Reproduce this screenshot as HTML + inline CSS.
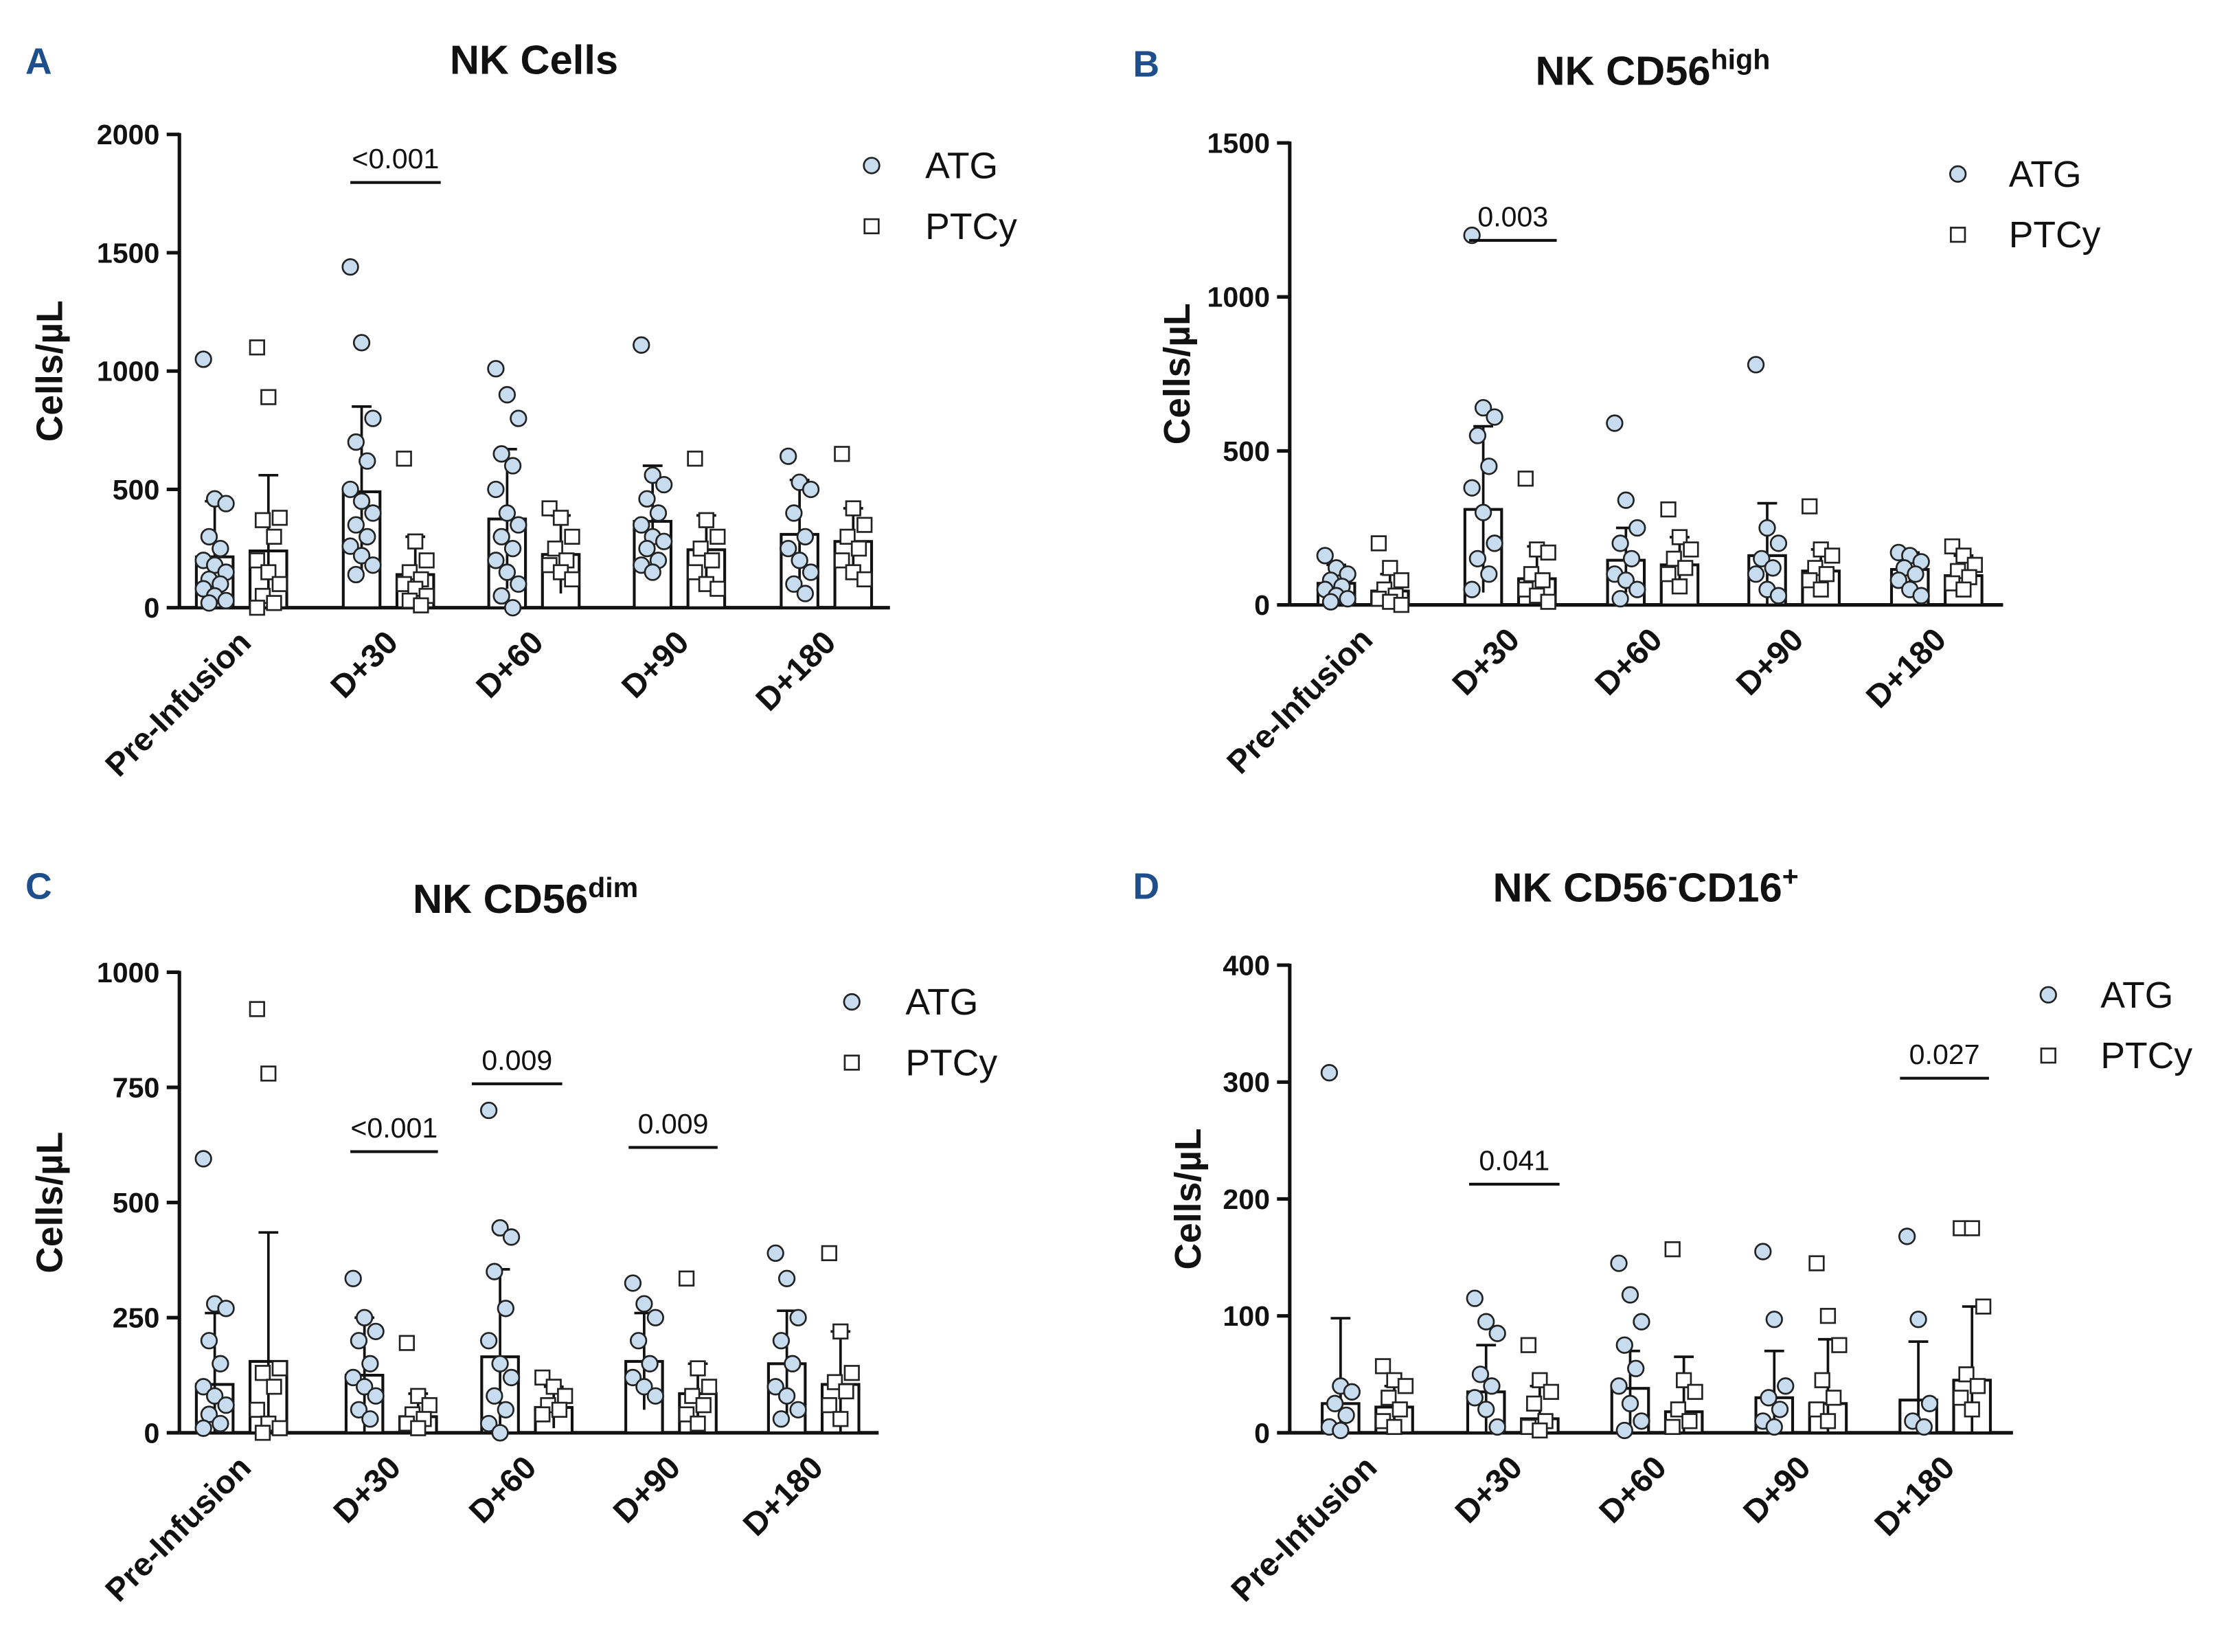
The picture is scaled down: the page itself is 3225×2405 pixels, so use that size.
<!DOCTYPE html>
<html><head><meta charset="utf-8"><style>
html,body{margin:0;padding:0;background:#fff}
svg{display:block}
text{font-family:"Liberation Sans",Arial,sans-serif}
</style></head><body>
<svg id="fig" xmlns="http://www.w3.org/2000/svg" width="3225" height="2405" viewBox="0 0 1568 1169"></svg>
<script>
const groups = ["Pre-Infusion","D+30","D+60","D+90","D+180"];
// Panel A
const aTicks=[0,500,1000,1500,2000];
const aAtgMean=[215,490,375,365,310], aAtgUp=[450,850,670,600,540];
const aPtcMean=[240,140,225,245,280], aPtcUp=[560,300,390,390,420];
const aAtgPts=[[1050,460,440,300,250,200,180,150,120,100,80,50,30,20],[1440,1120,800,700,620,500,450,400,350,300,260,220,180,140],[1010,900,800,650,600,500,400,350,300,250,200,150,100,50,0],[1110,560,520,460,400,350,300,280,250,200,180,150],[640,530,500,400,300,250,200,150,100,60]];
const aPtcPts=[[1100,890,380,370,300,200,150,100,50,20,0],[630,280,200,150,120,100,80,50,30,10],[420,380,300,250,200,180,150,120],[630,370,300,250,200,150,100,80],[650,420,350,300,250,200,150,120]];
// Panel B
const bTicks=[0,500,1000,1500];
const bAtgMean=[70,310,145,160,115], bAtgUp=[130,580,250,330,170];
const bPtcMean=[45,85,130,110,95], bPtcUp=[100,190,220,180,160];
const bAtgPts=[[160,120,100,80,60,50,30,20,10],[1200,640,610,550,450,380,300,200,150,100,50],[590,340,250,200,150,100,80,50,20],[780,250,200,150,120,100,50,30],[170,160,140,120,100,80,50,30]];
const bPtcPts=[[200,120,80,50,30,20,10,0],[410,180,170,100,80,50,30,10],[310,220,180,150,120,100,60],[320,180,160,120,100,80,50],[190,160,130,110,90,70,50]];
// Panel C
const cTicks=[0,250,500,750,1000];
const cAtgMean=[105,125,165,155,150], cAtgUp=[260,250,355,260,265];
const cPtcMean=[155,35,55,85,105], cPtcUp=[435,85,100,150,220];
const cAtgPts=[[595,280,270,200,150,100,80,60,40,20,10],[335,250,220,200,150,120,100,80,50,30],[700,445,425,350,270,200,150,120,80,50,20,0],[325,280,250,200,150,120,100,80],[390,335,250,200,150,100,80,50,30]];
const cPtcPts=[[920,780,140,130,100,50,20,10,0],[195,80,60,40,30,20,10],[120,100,80,60,50,40],[335,140,100,80,60,40,20],[390,220,130,110,90,60,30]];
// Panel D
const dTicks=[0,100,200,300,400];
const dAtgMean=[25,35,38,30,28], dAtgUp=[98,75,70,70,78];
const dPtcMean=[22,12,18,25,45], dPtcUp=[40,40,65,80,108];
const dAtgPts=[[308,40,35,25,15,5,2],[115,95,85,50,40,30,20,5],[145,118,95,75,55,40,25,10,2],[155,97,40,30,20,10,5],[168,97,25,10,5]];
const dPtcPts=[[57,45,40,30,20,10,5],[75,45,35,25,10,5,2],[157,45,35,20,10,5],[145,100,75,45,30,20,10],[175,175,108,50,40,30,20]];

const NS="http://www.w3.org/2000/svg", svg=document.getElementById("fig");
function mk(tag,attrs,parent,txt){const e=document.createElementNS(NS,tag);for(const k in attrs)e.setAttribute(k,attrs[k]);if(txt!==undefined)e.textContent=txt;(parent||svg).appendChild(e);return e;}

function panel(cfg){
  const g=mk("g",{});
  
  
  const max=cfg.ticks[cfg.ticks.length-1];
  const y=v=>cfg.y0-(v/max)*(cfg.y0-cfg.yTop);
  const bw=26;
  const L=mk("text",{x:cfg.letterX,y:cfg.letterY,"font-size":26,"font-weight":"bold",fill:"#1f4e8c"},g,cfg.id);
  
  const T=mk("text",{x:cfg.titleX,y:cfg.titleY,"font-size":29,"font-weight":"bold","text-anchor":"middle",fill:"#111"},g);
  
  T.innerHTML=cfg.title;
  mk("line",{x1:cfg.x0,y1:cfg.yTop-1,x2:cfg.x0,y2:cfg.y0,stroke:"#111","stroke-width":2.5},g);
  mk("line",{x1:cfg.x0,y1:cfg.y0,x2:cfg.x1,y2:cfg.y0,stroke:"#111","stroke-width":2.5},g);
  cfg.ticks.forEach(t=>{
    mk("line",{x1:cfg.x0-9,y1:y(t),x2:cfg.x0,y2:y(t),stroke:"#111","stroke-width":2.5},g);
    const tl=mk("text",{x:cfg.x0-14,y:y(t)+7,"font-size":20,"font-weight":"bold","text-anchor":"end",fill:"#111"},g,t);
    
  });
  const yl=mk("text",{x:0,y:0,"font-size":26,"font-weight":"bold","text-anchor":"middle",fill:"#111",transform:`translate(${cfg.ylX},${(cfg.y0+cfg.yTop)/2}) rotate(-90)`},g,"Cells/µL");
  
  groups.forEach((name,i)=>{
    const cx=cfg.cx[i], ca=cx-19, cp=cx+19;
    const xl=mk("text",{x:0,y:0,"font-size":23,"font-weight":"bold","text-anchor":"end",fill:"#111",transform:`translate(${cx+8},${cfg.y0+26}) rotate(-45)`},g,name);
    
    [[ca,cfg.am[i],cfg.au[i],cfg.ap[i],'atg'],[cp,cfg.pm[i],cfg.pu[i],cfg.pp[i],'ptcy']].forEach(([bx,m,u,pts,s])=>{
      const r=mk("rect",{x:bx-bw/2,y:y(m),width:bw,height:cfg.y0-y(m),fill:"#fff",stroke:"#111","stroke-width":2},g);
      
      mk("line",{x1:bx,y1:y(u),x2:bx,y2:y(Math.max(0,2*m-u)),stroke:"#111","stroke-width":1.8},g);
      mk("line",{x1:bx-7,y1:y(u),x2:bx+7,y2:y(u),stroke:"#111","stroke-width":1.8},g);
      pts.forEach((v,k)=>{
        const jx=bx+((k*7)%5-2)*4;
        let p;
        if(s==='atg'){p=mk("circle",{cx:jx,cy:y(v),r:5.5,fill:"#c7ddef",stroke:"#222","stroke-width":1.3},g);}
        else{p=mk("rect",{x:jx-5,y:y(v)-5,width:10,height:10,fill:"#fff",stroke:"#222","stroke-width":1.3},g);}
        
      });
    });
  });
  cfg.sig.forEach(([x1,x2,yy,label])=>{
    mk("line",{x1:x1,y1:yy,x2:x2,y2:yy,stroke:"#111","stroke-width":2},g);
    const st=mk("text",{x:(x1+x2)/2,y:yy-10,"font-size":20,"text-anchor":"middle",fill:"#111"},g,label);
    
  });
  const [lx,ly,tx]=cfg.leg;
  const l1=mk("circle",{cx:lx,cy:ly,r:5.5,fill:"#c7ddef",stroke:"#222","stroke-width":1.3},g);
  
  const lt1=mk("text",{x:tx,y:ly+9,"font-size":26,fill:"#111"},g,"ATG");
  
  const l2=mk("rect",{x:lx-5,y:ly+38,width:10,height:10,fill:"#fff",stroke:"#222","stroke-width":1.3},g);
  
  const lt2=mk("text",{x:tx,y:ly+52,"font-size":26,fill:"#111"},g,"PTCy");
  
}
panel({id:"A",title:"NK Cells",letterX:18,letterY:52,titleX:378,titleY:52,x0:127,x1:630,y0:430,yTop:95,ylX:44,ticks:aTicks,cx:[171,275,378,481,585],am:aAtgMean,au:aAtgUp,pm:aPtcMean,pu:aPtcUp,ap:aAtgPts,pp:aPtcPts,sig:[[248,312,129,"<0.001"]],leg:[617,117,655]});
panel({id:"B",title:"NK CD56<tspan baseline-shift='super' font-size='20'>high</tspan>",letterX:802,letterY:54,titleX:1170,titleY:60,x0:913,x1:1418,y0:428,yTop:101,ylX:842,ticks:bTicks,cx:[965,1069,1170,1270,1371],am:bAtgMean,au:bAtgUp,pm:bPtcMean,pu:bPtcUp,ap:bAtgPts,pp:bPtcPts,sig:[[1040,1102,170,"0.003"]],leg:[1386,123,1422]});
panel({id:"C",title:"NK CD56<tspan baseline-shift='super' font-size='20'>dim</tspan>",letterX:18,letterY:636,titleX:372,titleY:646,x0:127,x1:622,y0:1014,yTop:688,ylX:44,ticks:cTicks,cx:[171,277,373,475,576],am:cAtgMean,au:cAtgUp,pm:cPtcMean,pu:cPtcUp,ap:cAtgPts,pp:cPtcPts,sig:[[248,310,815,"<0.001"],[334,398,767,"0.009"],[445,508,812,"0.009"]],leg:[603,709,641]});
panel({id:"D",title:"NK CD56<tspan baseline-shift='super' font-size='20'>-</tspan>CD16<tspan baseline-shift='super' font-size='20'>+</tspan>",letterX:802,letterY:636,titleX:1165,titleY:638,x0:913,x1:1425,y0:1014,yTop:683,ylX:850,ticks:dTicks,cx:[968,1071,1173,1275,1377],am:dAtgMean,au:dAtgUp,pm:dPtcMean,pu:dPtcUp,ap:dAtgPts,pp:dPtcPts,sig:[[1040,1104,838,"0.041"],[1345,1408,763,"0.027"]],leg:[1450,704,1487]});
</script>
</body></html>
